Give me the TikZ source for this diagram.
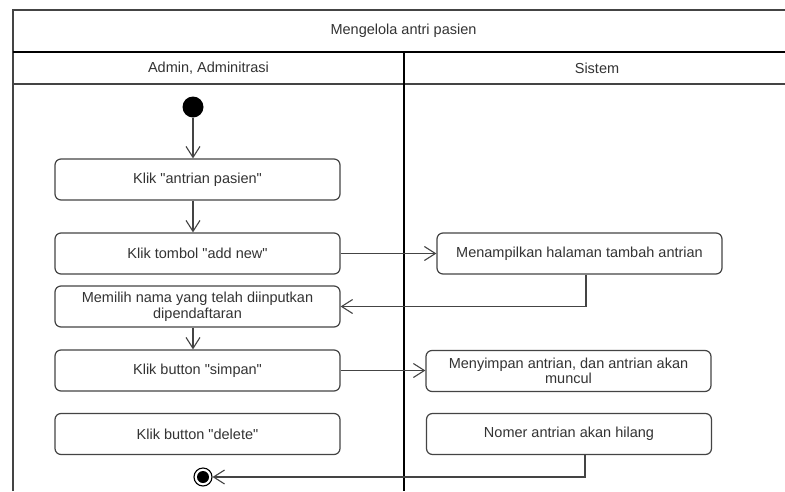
\documentclass[tikz,border=0pt]{standalone}
\usepackage{fontspec}
\setmainfont{Liberation Sans}
\newfontfamily\plainfont{Liberation Sans}
\usetikzlibrary{arrows.meta,calc}
\definecolor{linec}{HTML}{444444}
\definecolor{textc}{HTML}{333333}
\tikzset{
  act/.style={draw=linec, line width=1.2pt, rounded corners=6pt, minimum width=285pt,
    minimum height=41pt, inner sep=2pt, align=center, text=textc,
    font=\plainfont\fontsize{14.5}{15.5}\selectfont},
  flow/.style={draw=linec, line width=1.1pt, -{Straight Barb[length=11pt,width=14pt,line width=1.1pt]}},
  frame/.style={draw=linec, line width=1.2pt},
  heavy/.style={draw=black, line width=2pt},
  lbl/.style={text=textc, font=\plainfont\fontsize{14.5}{15.5}\selectfont, inner sep=0pt}
}
\begin{document}
\begin{tikzpicture}[x=1pt,y=-1pt]
\useasboundingbox (0,0) rectangle (785,491);
\fill[white] (0,0) rectangle (785,491);
% frame
\draw[frame] (13,491) -- (13,10) -- (785,10);
\draw[frame] (13,84) -- (785,84);
\draw[heavy] (13,52) -- (785,52);
\draw[heavy] (404,52) -- (404,491);
\node[lbl] (title) at (403.5,31) {Mengelola antri pasien};
\node[lbl] (laneA) at (208.5,68) {Admin, Adminitrasi};
\node[lbl] (laneB) at (597,68) {Sistem};
% nodes
\node[circle, fill=black, minimum size=21pt, inner sep=0pt] (ini) at (193,107) {};
\node[act] (B1) at (197.5,179.5) {Klik "antrian pasien"};
\node[act] (B2) at (197.5,253.5) {Klik tombol "add new"};
\node[act] (B3) at (197.5,306.5) {Memilih nama yang telah diinputkan\\dipendaftaran};
\node[act] (B4) at (197.5,370.5) {Klik button "simpan"};
\node[act] (B5) at (197.5,434) {Klik button "delete"};
\node[act] (R1) at (579.5,253.5) {Menampilkan halaman tambah antrian};
\node[act] (R2) at (568.5,371) {Menyimpan antrian, dan antrian akan\\muncul};
\node[act] (R3) at (569,434) {Nomer antrian akan hilang};
\node[circle, draw=black, line width=1.1pt, minimum size=18pt, inner sep=0pt] (fin) at (203,477) {};
\fill[black] (fin.center) circle (6pt);
% connectors
\draw[flow] (ini) -- (ini |- B1.north);
\draw[flow] (B1.south -| ini) -- (B2.north -| ini);
\draw[flow] (B3.south -| ini) -- (B4.north -| ini);
\draw[flow] (B2.east) -- (R1.west |- B2.east);
\draw[flow] ([xshift=6.5pt]R1.south) |- (B3.east);
\draw[flow] (B4.east) -- (R2.west |- B4.east);
\draw[flow] ([xshift=16pt]R3.south) |- (fin.east);
\end{tikzpicture}
\end{document}
